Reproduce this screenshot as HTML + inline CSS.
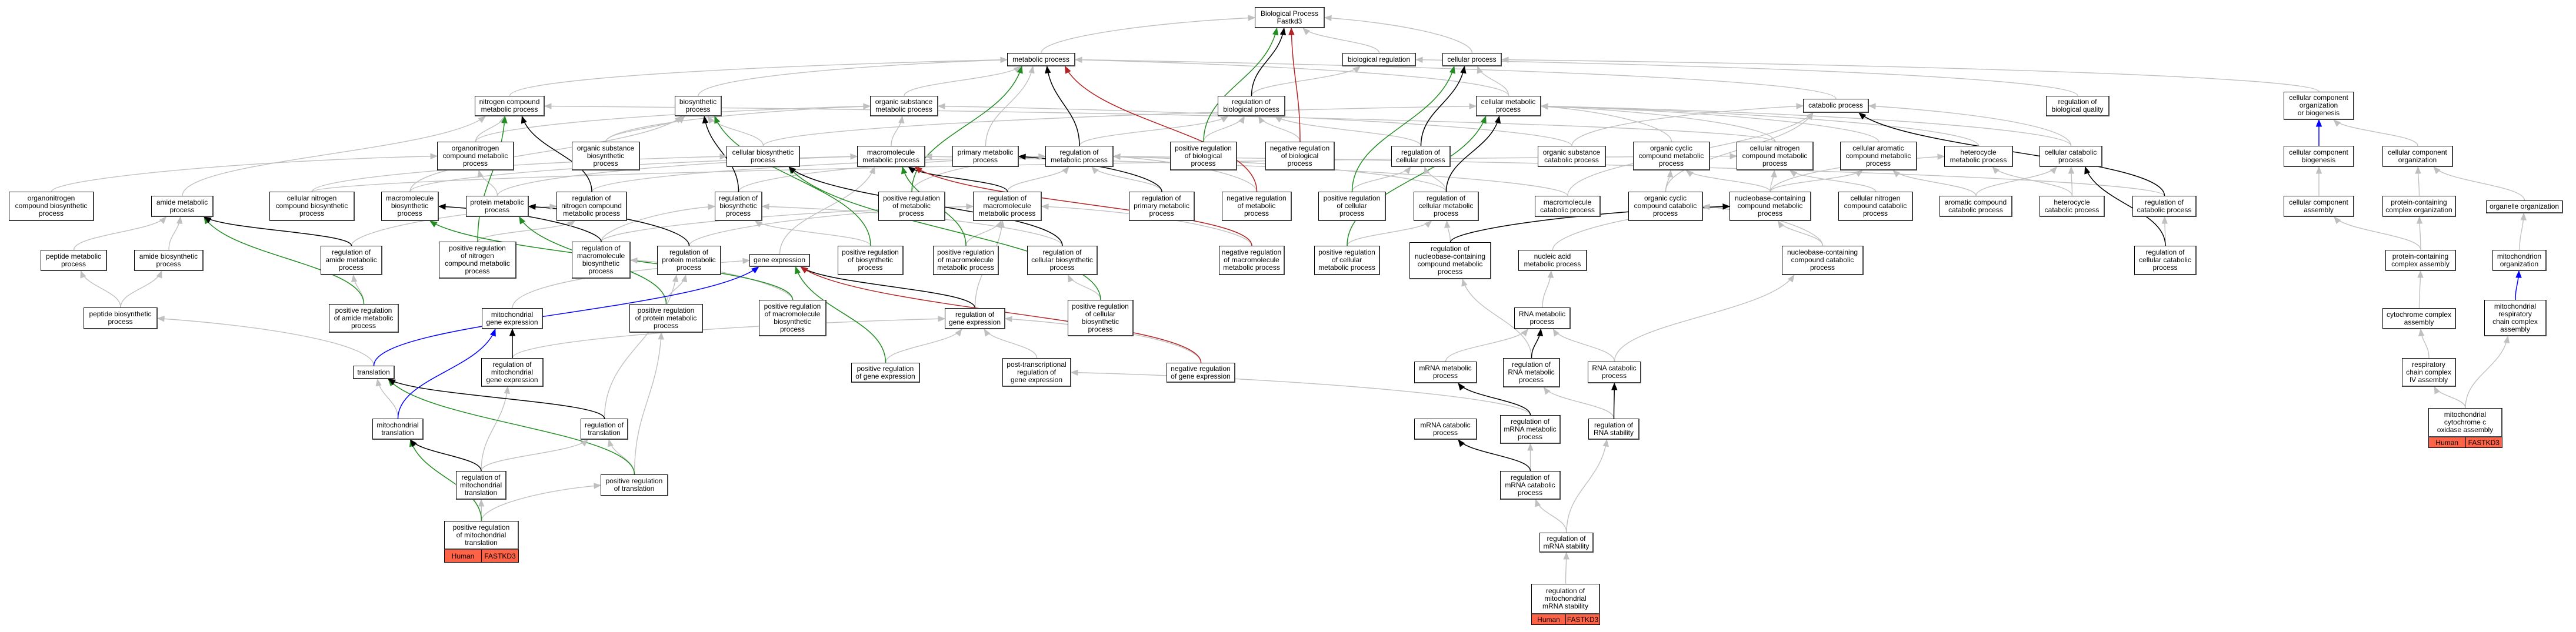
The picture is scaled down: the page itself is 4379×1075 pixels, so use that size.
<!DOCTYPE html>
<html><head><meta charset="utf-8">
<style>
html,body{margin:0;padding:0;background:#fff;}
#wrap{position:relative;width:4379px;height:1075px;overflow:hidden;background:#fff;}
svg{position:absolute;left:0;top:0;}
.n{position:absolute;box-sizing:border-box;border:1px solid #000;border-right:2px solid #444;border-bottom:2px solid #444;background:#fff;display:flex;align-items:center;justify-content:center;text-align:center;font-family:"Liberation Sans Narrow","Liberation Sans",sans-serif;font-size:12px;line-height:13px;color:#000;white-space:nowrap;z-index:2;}
.lab{position:absolute;display:flex;box-sizing:border-box;border:1px solid #000;border-top:none;z-index:2;font-family:"Liberation Sans Narrow","Liberation Sans",sans-serif;font-size:12px;}
.lab span{flex:1;background:#ff6347;display:flex;align-items:center;justify-content:center;color:#000;}
.lab span+span{border-left:1px solid #000;}
</style></head><body><div id="wrap">
<svg id="edges" width="4379" height="1075"></svg>

<div class="n" id="bp" style="left:2133px;top:12px;width:119px;height:36px">Biological Process<br>Fastkd3</div>
<div class="n" id="mp" style="left:1712px;top:90px;width:116px;height:23px">metabolic process</div>
<div class="n" id="breg" style="left:2282px;top:90px;width:125px;height:23px">biological regulation</div>
<div class="n" id="cp" style="left:2452px;top:90px;width:101px;height:23px">cellular process</div>

<div class="n" id="ncmp" style="left:807px;top:163px;width:119px;height:35px">nitrogen compound<br>metabolic process</div>
<div class="n" id="bsp" style="left:1147px;top:163px;width:80px;height:35px">biosynthetic<br>process</div>
<div class="n" id="osmp" style="left:1479px;top:163px;width:116px;height:35px">organic substance<br>metabolic process</div>
<div class="n" id="rbp" style="left:2070px;top:163px;width:115px;height:35px">regulation of<br>biological process</div>
<div class="n" id="cmp" style="left:2509px;top:163px;width:111px;height:35px">cellular metabolic<br>process</div>
<div class="n" id="catp" style="left:3065px;top:168px;width:112px;height:24px">catabolic process</div>
<div class="n" id="rbq" style="left:3478px;top:163px;width:108px;height:35px">regulation of<br>biological quality</div>
<div class="n" id="ccob" style="left:3882px;top:156px;width:120px;height:48px">cellular component<br>organization<br>or biogenesis</div>

<div class="n" id="oncmp" style="left:743px;top:241px;width:131px;height:49px">organonitrogen<br>compound metabolic<br>process</div>
<div class="n" id="osbp" style="left:972px;top:241px;width:116px;height:49px">organic substance<br>biosynthetic<br>process</div>
<div class="n" id="cbp" style="left:1235px;top:248px;width:125px;height:36px">cellular biosynthetic<br>process</div>
<div class="n" id="mmp" style="left:1457px;top:248px;width:116px;height:36px">macromolecule<br>metabolic process</div>
<div class="n" id="pmp" style="left:1619px;top:248px;width:113px;height:36px">primary metabolic<br>process</div>
<div class="n" id="rmp" style="left:1777px;top:248px;width:116px;height:36px">regulation of<br>metabolic process</div>
<div class="n" id="prbp" style="left:1989px;top:241px;width:114px;height:49px">positive regulation<br>of biological<br>process</div>
<div class="n" id="nrbp" style="left:2151px;top:241px;width:118px;height:49px">negative regulation<br>of biological<br>process</div>
<div class="n" id="rcp" style="left:2365px;top:248px;width:101px;height:36px">regulation of<br>cellular process</div>
<div class="n" id="oscp" style="left:2614px;top:248px;width:116px;height:36px">organic substance<br>catabolic process</div>
<div class="n" id="occmp" style="left:2776px;top:241px;width:131px;height:49px">organic cyclic<br>compound metabolic<br>process</div>
<div class="n" id="cncmp" style="left:2952px;top:241px;width:131px;height:49px">cellular nitrogen<br>compound metabolic<br>process</div>
<div class="n" id="cacmp" style="left:3128px;top:241px;width:131px;height:49px">cellular aromatic<br>compound metabolic<br>process</div>
<div class="n" id="hmp" style="left:3305px;top:248px;width:117px;height:36px">heterocycle<br>metabolic process</div>
<div class="n" id="ccatp" style="left:3467px;top:248px;width:107px;height:36px">cellular catabolic<br>process</div>
<div class="n" id="ccb" style="left:3882px;top:248px;width:120px;height:36px">cellular component<br>biogenesis</div>
<div class="n" id="cco" style="left:4050px;top:248px;width:120px;height:36px">cellular component<br>organization</div>

<div class="n" id="oncbp" style="left:15px;top:326px;width:145px;height:50px">organonitrogen<br>compound biosynthetic<br>process</div>
<div class="n" id="amp" style="left:257px;top:333px;width:106px;height:36px">amide metabolic<br>process</div>
<div class="n" id="cncbp" style="left:458px;top:326px;width:145px;height:50px">cellular nitrogen<br>compound biosynthetic<br>process</div>
<div class="n" id="mbp" style="left:648px;top:326px;width:98px;height:50px">macromolecule<br>biosynthetic<br>process</div>
<div class="n" id="prmp" style="left:792px;top:333px;width:107px;height:36px">protein metabolic<br>process</div>
<div class="n" id="rncmp" style="left:946px;top:326px;width:120px;height:50px">regulation of<br>nitrogen compound<br>metabolic process</div>
<div class="n" id="rbsp" style="left:1215px;top:326px;width:81px;height:50px">regulation of<br>biosynthetic<br>process</div>
<div class="n" id="prmp2" style="left:1493px;top:326px;width:114px;height:50px">positive regulation<br>of metabolic<br>process</div>
<div class="n" id="rmmp" style="left:1654px;top:326px;width:117px;height:50px">regulation of<br>macromolecule<br>metabolic process</div>
<div class="n" id="rpmp" style="left:1919px;top:326px;width:112px;height:50px">regulation of<br>primary metabolic<br>process</div>
<div class="n" id="nrmp" style="left:2077px;top:326px;width:119px;height:50px">negative regulation<br>of metabolic<br>process</div>
<div class="n" id="prcp" style="left:2241px;top:326px;width:115px;height:50px">positive regulation<br>of cellular<br>process</div>
<div class="n" id="rcmp" style="left:2403px;top:326px;width:111px;height:50px">regulation of<br>cellular metabolic<br>process</div>
<div class="n" id="mcp" style="left:2609px;top:333px;width:112px;height:36px">macromolecule<br>catabolic process</div>
<div class="n" id="occp" style="left:2768px;top:326px;width:127px;height:50px">organic cyclic<br>compound catabolic<br>process</div>
<div class="n" id="nbcmp" style="left:2940px;top:326px;width:139px;height:50px">nucleobase-containing<br>compound metabolic<br>process</div>
<div class="n" id="cnccp" style="left:3125px;top:326px;width:127px;height:50px">cellular nitrogen<br>compound catabolic<br>process</div>
<div class="n" id="accp" style="left:3297px;top:333px;width:124px;height:36px">aromatic compound<br>catabolic process</div>
<div class="n" id="hcp" style="left:3467px;top:333px;width:111px;height:36px">heterocycle<br>catabolic process</div>
<div class="n" id="rcatp" style="left:3625px;top:333px;width:109px;height:36px">regulation of<br>catabolic process</div>
<div class="n" id="cca" style="left:3882px;top:333px;width:120px;height:36px">cellular component<br>assembly</div>
<div class="n" id="pcco" style="left:4050px;top:333px;width:125px;height:36px">protein-containing<br>complex organization</div>
<div class="n" id="oo" style="left:4226px;top:341px;width:131px;height:22px">organelle organization</div>

<div class="n" id="pepmp" style="left:69px;top:425px;width:113px;height:36px">peptide metabolic<br>process</div>
<div class="n" id="absp" style="left:228px;top:425px;width:118px;height:36px">amide biosynthetic<br>process</div>
<div class="n" id="ramp" style="left:545px;top:418px;width:105px;height:50px">regulation of<br>amide metabolic<br>process</div>
<div class="n" id="prncmp" style="left:746px;top:411px;width:132px;height:63px">positive regulation<br>of nitrogen<br>compound metabolic<br>process</div>
<div class="n" id="rmbp" style="left:972px;top:411px;width:100px;height:63px">regulation of<br>macromolecule<br>biosynthetic<br>process</div>
<div class="n" id="rprotmp" style="left:1117px;top:418px;width:109px;height:50px">regulation of<br>protein metabolic<br>process</div>
<div class="n" id="ge" style="left:1274px;top:432px;width:103px;height:22px">gene expression</div>
<div class="n" id="prbsp" style="left:1424px;top:418px;width:112px;height:50px">positive regulation<br>of biosynthetic<br>process</div>
<div class="n" id="prmmp" style="left:1586px;top:418px;width:112px;height:50px">positive regulation<br>of macromolecule<br>metabolic process</div>
<div class="n" id="rcbp" style="left:1746px;top:418px;width:120px;height:50px">regulation of<br>cellular biosynthetic<br>process</div>
<div class="n" id="nrmmp" style="left:2072px;top:418px;width:112px;height:50px">negative regulation<br>of macromolecule<br>metabolic process</div>
<div class="n" id="prcmp" style="left:2234px;top:418px;width:112px;height:50px">positive regulation<br>of cellular<br>metabolic process</div>
<div class="n" id="rnbcmp" style="left:2396px;top:412px;width:139px;height:63px">regulation of<br>nucleobase-containing<br>compound metabolic<br>process</div>
<div class="n" id="namp" style="left:2581px;top:425px;width:117px;height:36px">nucleic acid<br>metabolic process</div>
<div class="n" id="nbccp" style="left:3029px;top:418px;width:139px;height:50px">nucleobase-containing<br>compound catabolic<br>process</div>
<div class="n" id="rccatp" style="left:3628px;top:418px;width:106px;height:50px">regulation of<br>cellular catabolic<br>process</div>
<div class="n" id="pcca" style="left:4055px;top:425px;width:120px;height:36px">protein-containing<br>complex assembly</div>
<div class="n" id="mo" style="left:4237px;top:425px;width:92px;height:36px">mitochondrion<br>organization</div>

<div class="n" id="pepbsp" style="left:142px;top:523px;width:126px;height:37px">peptide biosynthetic<br>process</div>
<div class="n" id="pramp" style="left:559px;top:517px;width:119px;height:49px">positive regulation<br>of amide metabolic<br>process</div>
<div class="n" id="mge" style="left:819px;top:524px;width:104px;height:36px">mitochondrial<br>gene expression</div>
<div class="n" id="prprotmp" style="left:1070px;top:517px;width:125px;height:49px">positive regulation<br>of protein metabolic<br>process</div>
<div class="n" id="prmbp" style="left:1290px;top:510px;width:115px;height:62px">positive regulation<br>of macromolecule<br>biosynthetic<br>process</div>
<div class="n" id="rge" style="left:1606px;top:524px;width:103px;height:36px">regulation of<br>gene expression</div>
<div class="n" id="prcbp" style="left:1815px;top:510px;width:112px;height:62px">positive regulation<br>of cellular<br>biosynthetic<br>process</div>
<div class="n" id="rnamp" style="left:2574px;top:523px;width:96px;height:37px">RNA metabolic<br>process</div>
<div class="n" id="cca2" style="left:4050px;top:524px;width:125px;height:36px">cytochrome complex<br>assembly</div>
<div class="n" id="mrcca" style="left:4223px;top:510px;width:106px;height:62px">mitochondrial<br>respiratory<br>chain complex<br>assembly</div>

<div class="n" id="tr" style="left:600px;top:622px;width:71px;height:23px">translation</div>
<div class="n" id="rmge" style="left:818px;top:609px;width:106px;height:49px">regulation of<br>mitochondrial<br>gene expression</div>
<div class="n" id="prge" style="left:1447px;top:617px;width:117px;height:34px">positive regulation<br>of gene expression</div>
<div class="n" id="ptrge" style="left:1704px;top:609px;width:117px;height:49px">post-transcriptional<br>regulation of<br>gene expression</div>
<div class="n" id="nrge" style="left:1983px;top:617px;width:117px;height:34px">negative regulation<br>of gene expression</div>
<div class="n" id="mrnamp" style="left:2404px;top:615px;width:107px;height:37px">mRNA metabolic<br>process</div>
<div class="n" id="rrnamp" style="left:2555px;top:609px;width:97px;height:50px">regulation of<br>RNA metabolic<br>process</div>
<div class="n" id="rnacp" style="left:2699px;top:615px;width:91px;height:37px">RNA catabolic<br>process</div>
<div class="n" id="rcc4" style="left:4083px;top:609px;width:92px;height:49px">respiratory<br>chain complex<br>IV assembly</div>

<div class="n" id="mtr" style="left:633px;top:712px;width:87px;height:36px">mitochondrial<br>translation</div>
<div class="n" id="rtr" style="left:987px;top:712px;width:81px;height:36px">regulation of<br>translation</div>
<div class="n" id="mrnacp" style="left:2404px;top:712px;width:107px;height:36px">mRNA catabolic<br>process</div>
<div class="n" id="rmrnamp" style="left:2550px;top:706px;width:103px;height:49px">regulation of<br>mRNA metabolic<br>process</div>
<div class="n" id="rrnas" style="left:2700px;top:712px;width:87px;height:36px">regulation of<br>RNA stability</div>
<div class="n" id="mcoa" style="left:4128px;top:694px;width:126px;height:50px">mitochondrial<br>cytochrome c<br>oxidase assembly</div>
<div class="lab" style="left:4128px;top:744px;width:126px;height:18px"><span>Human</span><span>FASTKD3</span></div>

<div class="n" id="rmtr" style="left:775px;top:801px;width:86px;height:49px">regulation of<br>mitochondrial<br>translation</div>
<div class="n" id="prtr" style="left:1021px;top:807px;width:115px;height:37px">positive regulation<br>of translation</div>
<div class="n" id="rmrnacp" style="left:2550px;top:801px;width:103px;height:49px">regulation of<br>mRNA catabolic<br>process</div>

<div class="n" id="prmtr" style="left:755px;top:886px;width:127px;height:49px">positive regulation<br>of mitochondrial<br>translation</div>
<div class="lab" style="left:755px;top:935px;width:127px;height:22px"><span>Human</span><span>FASTKD3</span></div>
<div class="n" id="rmrnas" style="left:2617px;top:906px;width:92px;height:34px">regulation of<br>mRNA stability</div>
<div class="n" id="rmmrnas" style="left:2603px;top:993px;width:117px;height:52px">regulation of<br>mitochondrial<br>mRNA stability</div>
<div class="lab" style="left:2603px;top:1045px;width:117px;height:18px"><span>Human</span><span>FASTKD3</span></div>
</div>
<script>
(function(){
var G='#c0c0c0',K='#000',R='#b22222',N='#228b22',B='#0000ff';
var E=[
['mp','bp',G],['breg','bp',G],['cp','bp',G],['rbp','breg',G],['ncmp','mp',G],['bsp','mp',G],['osmp','mp',G],['pmp','mp',G],
['cmp','cp',G],['cmp','mp',G],['catp','mp',G],['rbq','breg',G],['ccob','cp',G],['oncmp','ncmp',G],['oncmp','osmp',G],
['osbp','bsp',G],['osbp','osmp',G],['cbp','bsp',G],['cbp','cmp',G],['mmp','osmp',G],['rmp','rbp',G],['prbp','rbp',G],['nrbp','rbp',G],
['rcp','rbp',G],['rcp','cp',G],['oscp','osmp',G],['oscp','catp',G],['occmp','cmp',G],['cncmp','ncmp',G],['cncmp','cmp',G],['cacmp','cmp',G],
['hmp','cmp',G],['ccatp','catp',G],['ccatp','cmp',G],['ccb','ccob',B],['cco','ccob',G],['oncbp','oncmp',G],['amp','ncmp',G],
['cncbp','cbp',G],['cncbp','cncmp',G],['mbp','mmp',G],['mbp','bsp',G],['prmp','oncmp',G],['prmp','mmp',G],['rncmp','rmp',G],
['rbsp','rmp',G],['prmp2','rmp',G],['rmmp','rmp',G],['rpmp','rmp',G],['nrmp','rmp',G],['prcp','rcp',G],['rcmp','rcp',G],['rcmp','rmp',G],
['mcp','mmp',G],['mcp','catp',G],['occp','occmp',G],['occp','catp',G],['nbcmp','cncmp',G],['nbcmp','hmp',G],['nbcmp','cacmp',G],['nbcmp','occmp',G],
['cnccp','cncmp',G],['accp','cacmp',G],['accp','ccatp',G],['hcp','hmp',G],['hcp','ccatp',G],['rcatp','rmp',G],['cca','ccb',G],['pcco','cco',G],
['oo','cco',G],['pepmp','amp',G],['absp','amp',G],['ramp','rncmp',G],['prncmp','rncmp',G],['rmbp','rbsp',G],['rmbp','rmmp',G],
['rprotmp','rmmp',G],['ge','mmp',G],['prbsp','rbsp',G],['prmmp','rmmp',G],['rcbp','rbsp',G],['nrmmp','rmmp',G],['prcmp','rcmp',G],
['rnbcmp','rcmp',G],['namp','nbcmp',G],['nbccp','nbcmp',G],['nbccp','occp',G],['rccatp','rcatp',G],['pcca','pcco',G],['pcca','cca',G],
['mo','oo',G],['pepbsp','pepmp',G],['pepbsp','absp',G],['pramp','ramp',G],['mge','ge',G],['prprotmp','rprotmp',G],['prmbp','rmbp',G],
['rge','rmmp',G],['prcbp','rcbp',G],['rnamp','namp',G],['cca2','pcca',G],['tr','pepbsp',G],['rmge','rge',G],['prge','rge',G],
['ptrge','rge',G],['nrge','rge',G],['mrnamp','rnamp',G],['rrnamp','rnbcmp',G],['rnacp','nbccp',G],['rnacp','rnamp',G],['rcc4','cca2',G],['mcoa','rcc4',G],
['mcoa','mrcca',G],['mtr','tr',G],['rtr','rprotmp',G],['rmrnamp','ptrge',G],['rrnas','rrnamp',G],['rmtr','rtr',G],['rmtr','rmge',G],
['prtr','rtr',G],['prtr','prprotmp',G],['rmrnacp','rmrnamp',G],['prmtr','rmtr',G],['prmtr','prtr',G],['rmrnas','rrnas',G],
['rmrnas','rmrnacp',G],['rmmrnas','rmrnas',G],['rcatp','catp',K],['rccatp','ccatp',K],['rrnas','rnacp',K],
['prbp','bp',N],['prcp','cp',N],['prmp2','mp',N],['prcmp','cmp',N],['prncmp','ncmp',N],['prbsp','bsp',N],['prcbp','cbp',N],['prmmp','mmp',N],
['prmbp','mbp',N],['prprotmp','prmp',N],['pramp','amp',N],['prge','ge',N],['prtr','tr',N],['prmtr','mtr',N],
['rbp','bp',K],['rcp','cp',K],['rmp','mp',K],['rcmp','cmp',K],['rncmp','ncmp',K],['rbsp','bsp',K],['rcbp','cbp',K],['rmmp','mmp',K],['rpmp','pmp',K],
['rmbp','mbp',K],['rprotmp','prmp',K],['ramp','amp',K],['rge','ge',K],['rtr','tr',K],['rmtr','mtr',K],['rmge','mge',K],
['rnbcmp','nbcmp',K],['rrnamp','rnamp',K],['rmrnamp','mrnamp',K],['rmrnacp','mrnacp',K],
['nrbp','bp',R],['nrmp','mp',R],['nrmmp','mmp',R],['nrge','ge',R],
['mtr','mge',B],['tr','ge',B],['mrcca','mo',B]
];
function box(id){var e=document.getElementById(id);return{x:e.offsetLeft,y:e.offsetTop,w:e.offsetWidth,h:e.offsetHeight};}
var s='',ah='';
E.forEach(function(d){
 var a=box(d[0]),b=box(d[1]),c=d[2];
 var sx=a.x+a.w/2,sy=a.y,tx=b.x+b.w/2,ty=b.y+b.h;
 var dx=tx-sx,dy=sy-ty,c1x,c1y,c2x,c2y;
 if(dy<10){
   if(tx>sx){sx=a.x+a.w;tx=b.x;}else{sx=a.x;tx=b.x+b.w;}
   sy=a.y+a.h/2;ty=b.y+b.h/2;c1x=sx+(tx-sx)/2;c1y=sy-20;c2x=sx+(tx-sx)/2;c2y=ty-20;
 } else if(Math.abs(dx)>6*dy){
   if(tx>sx){tx=b.x;}else{tx=b.x+b.w;}
   ty=b.y+b.h/2;c1x=sx;c1y=sy-dy*0.6;c2x=sx+(tx-sx)*0.5;c2y=ty+Math.min(20,dy*0.2);
 } else {
   var off=Math.max(-b.w*0.35,Math.min(b.w*0.35,-dx*0.15));
   tx=tx+off;
   c1x=sx;c1y=sy-dy*0.45;c2x=tx+(sx-tx)*0.15;c2y=ty+dy*0.45;
 }
 var w=(c==G)?1.4:1.5;
 s+='<path d="M'+sx+','+sy+' C'+c1x+','+c1y+' '+c2x+','+c2y+' '+tx+','+ty+'" fill="none" stroke="'+c+'" stroke-width="'+w+'"/>';
 var ux=tx-c2x,uy=ty-c2y,L=Math.sqrt(ux*ux+uy*uy)||1;ux/=L;uy/=L;
 var bx=tx-ux*11,by=ty-uy*11,px=-uy*4.5,py=ux*4.5;
 ah+='<polygon points="'+tx+','+ty+' '+(bx+px)+','+(by+py)+' '+(bx-px)+','+(by-py)+'" fill="'+c+'" stroke="'+c+'"/>';
});
document.getElementById('edges').innerHTML=s+ah;
})();
</script>
</body></html>
